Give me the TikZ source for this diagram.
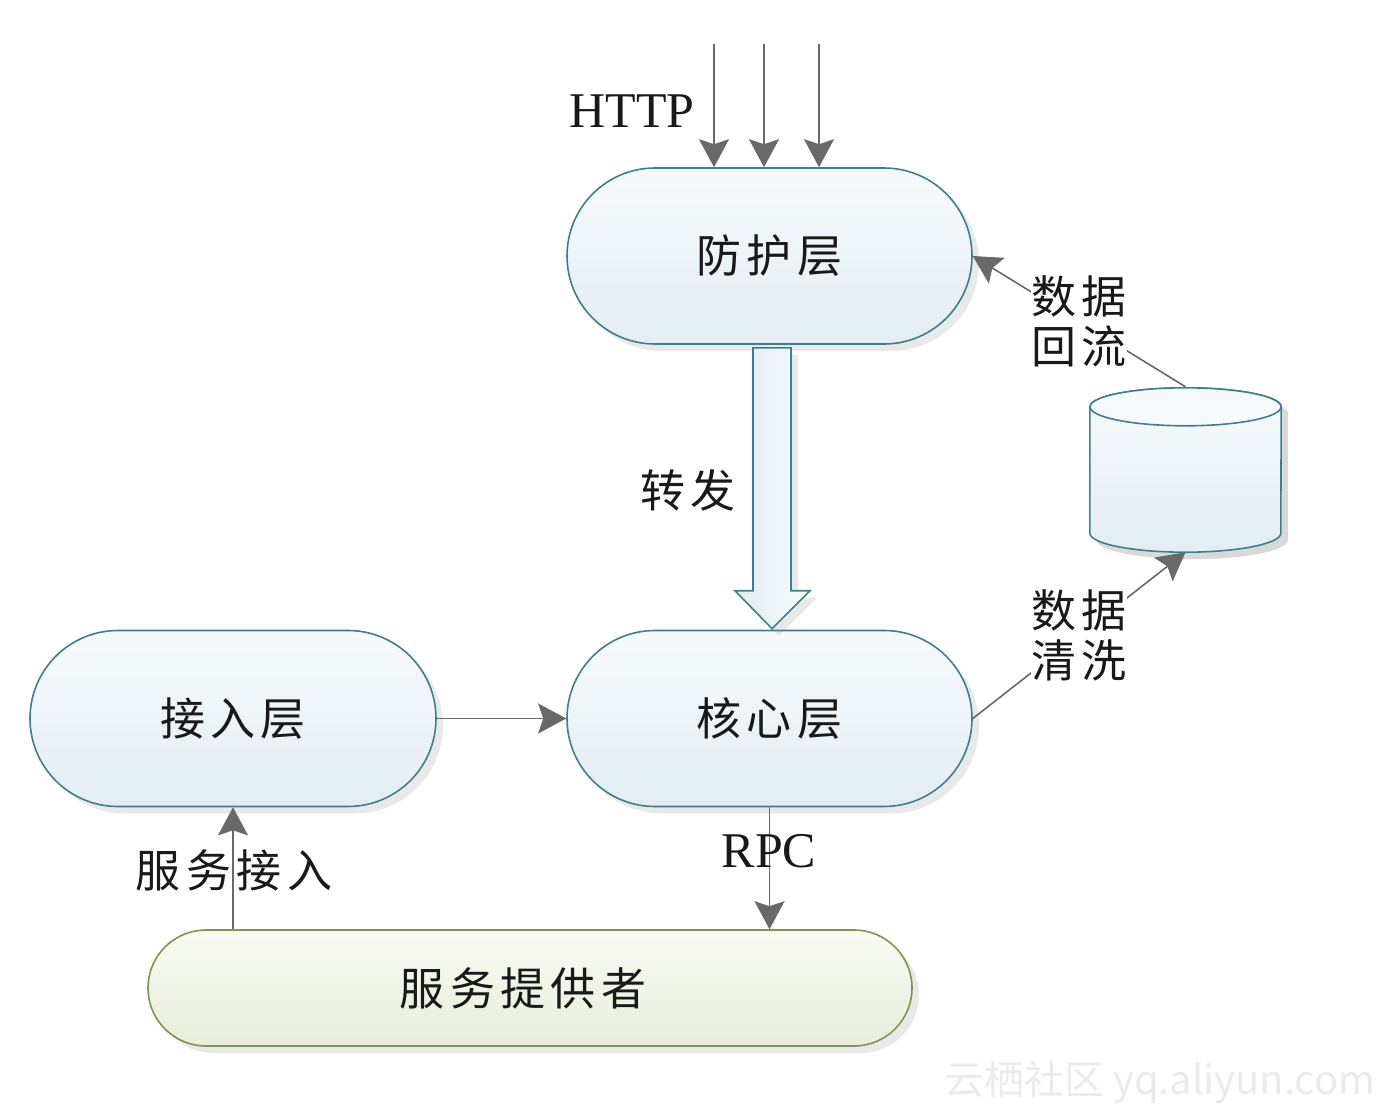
\documentclass[tikz,border=0pt]{standalone}
\usepackage{fontspec}
\setmainfont{Liberation Serif}
\newfontfamily\cjk[LetterSpace=12]{Noto Sans CJK SC}
\newfontfamily\cjkplain{Noto Sans CJK SC}
\usetikzlibrary{arrows.meta,shadows,calc}
\definecolor{edge}{RGB}{62,127,143}
\definecolor{fillT}{RGB}{247,250,252}
\definecolor{fillB}{RGB}{227,237,243}
\definecolor{gedge}{RGB}{126,150,80}
\definecolor{gT}{RGB}{249,251,244}
\definecolor{gB}{RGB}{231,237,218}
\definecolor{conn}{RGB}{105,105,105}
\definecolor{txt}{RGB}{25,25,25}
\begin{document}
\begin{tikzpicture}[x=1pt,y=-1pt,
  shad/.style={drop shadow={shadow xshift=7pt,shadow yshift=-7pt,opacity=0.17}},
  layer/.style={rectangle, rounded corners=88pt, minimum width=405pt, minimum height=176pt,
    draw=edge, line width=1.6pt, top color=fillT, bottom color=fillB, shad,
    font=\cjk\fontsize{45}{50}\selectfont, text=txt},
  provider/.style={rectangle, rounded corners=58pt, minimum width=764pt, minimum height=116pt,
    draw=gedge, line width=1.6pt, top color=gT, bottom color=gB, shad,
    font=\cjk\fontsize{45}{50}\selectfont, text=txt},
  conn/.style={draw=conn, line width=1.6pt, -{Stealth[length=28pt,width=30pt,inset=5pt]}},
  clbl/.style={font=\cjk\fontsize{45}{50}\selectfont, text=txt, align=center},
  lbl/.style={font=\fontsize{50}{60}\selectfont, text=txt},
  barrow/.style={draw=edge, line width=1.6pt, left color=fillB, right color=fillT, shad, line join=miter}
]
\fill[white] (0,0) rectangle (1400,1116);
\useasboundingbox (0,0) rectangle (1400,1116);

% nodes
\node[layer] (fh) at (769.5,256) {防护层};
\node[layer] (hx) at (769.5,718.5) {核心层};
\node[layer, minimum width=406pt] (jr) at (233,718.5) {接入层};
\node[provider] (sp) at (530,988) {服务提供者\hspace*{14pt}};
\node[rectangle, minimum width=191pt, minimum height=165pt, inner sep=0pt] (cyl) at (1185.5,469.5) {};

% cylinder (database)
\path[fill=black, opacity=0.15]
  ($(cyl.north west)+(7,27)$) -- ($(cyl.south west)+(7,-12)$)
  arc[start angle=180, end angle=360, x radius=95.5pt, y radius=19pt]
  -- ($(cyl.north east)+(7,27)$)
  arc[start angle=0, end angle=180, x radius=95.5pt, y radius=19pt] -- cycle;
\draw[draw=edge, line width=1.6pt, top color=fillT, bottom color=fillB]
  ($(cyl.north west)+(0,20)$) -- ($(cyl.south west)+(0,-19)$)
  arc[start angle=180, end angle=360, x radius=95.5pt, y radius=19pt]
  -- ($(cyl.north east)+(0,20)$)
  arc[start angle=0, end angle=180, x radius=95.5pt, y radius=19pt] -- cycle;
\draw[draw=edge, line width=1.6pt, fill=fillT]
  ($(cyl.north)+(0,20)$) ellipse[x radius=95.5pt, y radius=19pt];

% HTTP arrows
\coordinate (h1) at (714,44);
\coordinate (h2) at (764,44);
\coordinate (h3) at (819,44);
\draw[conn] (h1) -- (h1 |- fh.north);
\draw[conn] (h2) -- (h2 |- fh.north);
\draw[conn] (h3) -- (h3 |- fh.north);
\node[lbl] (http) at (632,111) {HTTP};

% forward block arrow
\draw[barrow]
  ($(fh.south)+(-16.5,3)$) -- ($(fh.south)+(21.5,3)$) -- ($(hx.north)+(21.5,-39)$)
  -- ($(hx.north)+(40.5,-39)$) -- ($(hx.north)+(2.5,-1)$) -- ($(hx.north)+(-34.5,-39)$)
  -- ($(hx.north)+(-16.5,-39)$) -- cycle;
\node[clbl] (zf) at (688,490) {转发};

% connectors
\draw[conn] (jr.east) -- (hx.west);
\draw[conn] (hx.south) -- (hx.south |- sp.north);
\node[lbl] (rpc) at (769,851) {RPC};
\draw[conn] (jr.south |- sp.north) -- (jr.south);
\node[clbl] (fwjr) at (234,870) {服务接入};

\draw[conn] (hx.east) -- node[clbl, fill=white, inner sep=0pt] (qx) {数据\\清洗} (cyl.south);
\draw[conn] (cyl.north) -- node[clbl, fill=white, inner sep=0pt] (hl) {数据\\回流} (fh.east);

% watermark
\node[font=\cjkplain\fontsize{40}{48}\selectfont, text=black!8] (wm) at (1160,1082) {云栖社区 yq.aliyun.com};
\end{tikzpicture}
\end{document}
